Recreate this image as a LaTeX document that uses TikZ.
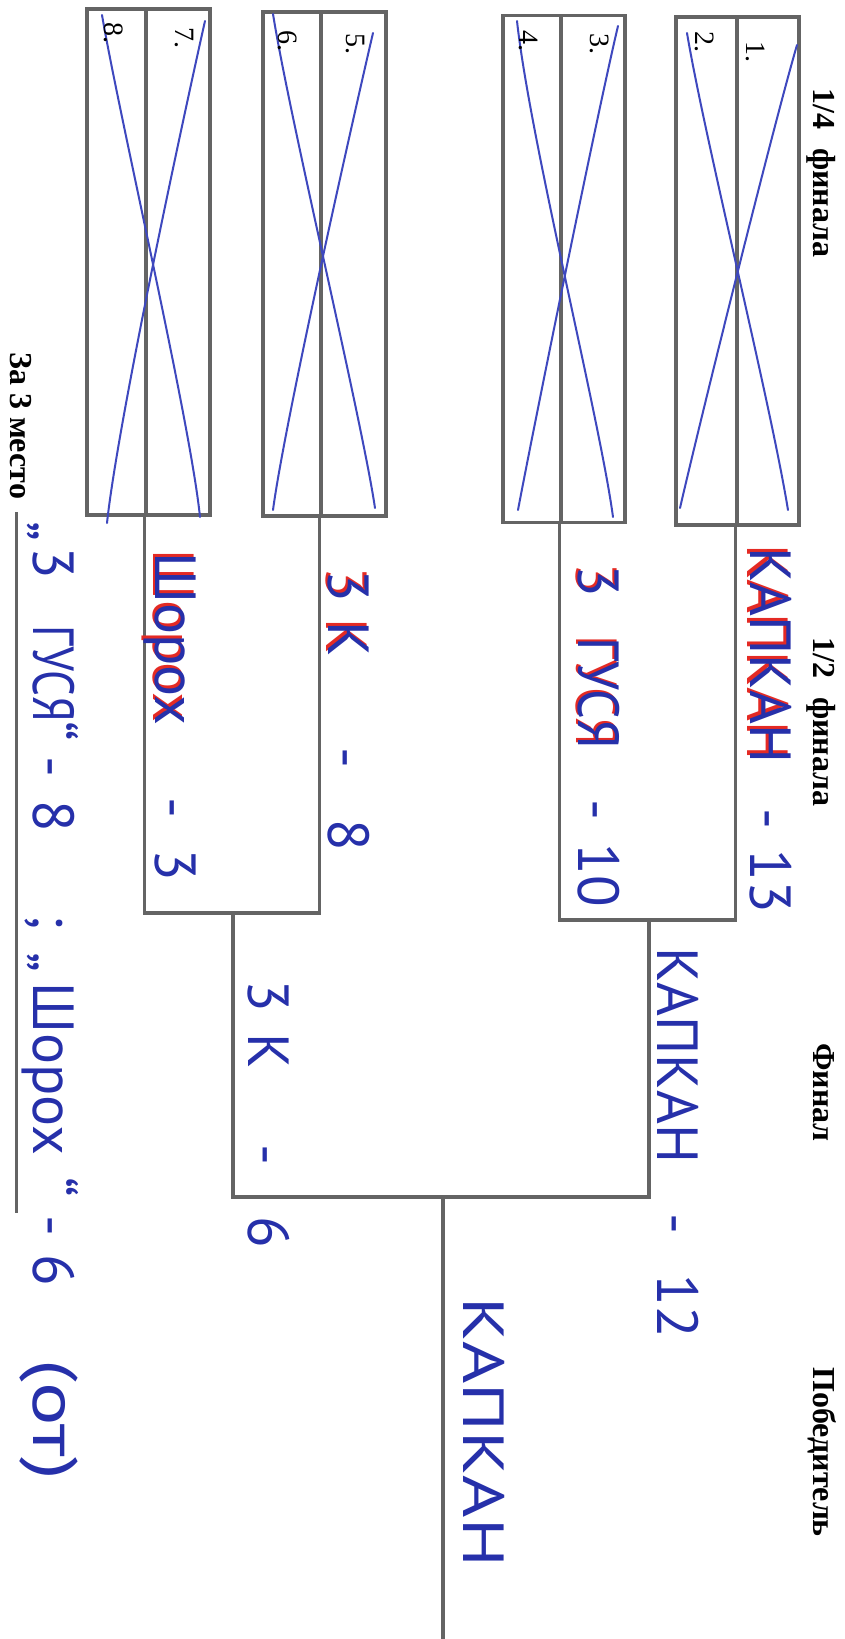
\documentclass[tikz,border=0pt]{standalone}
\usepackage{fontspec}
\setmainfont{Liberation Serif}
\newfontfamily\handfont{PT Sans}
\definecolor{ink}{RGB}{38,48,170}
\definecolor{redink}{RGB}{228,42,36}
\definecolor{crossink}{RGB}{62,72,190}
\definecolor{framegray}{RGB}{100,100,100}
\tikzset{
  slot/.style={draw=framegray,line width=3.5pt,inner sep=0pt,rectangle},
  frameline/.style={draw=framegray,line width=3.5pt},
  crossline/.style={draw=crossink,line width=2pt,line cap=round},
  head/.style={font=\fontsize{32}{32}\selectfont\bfseries,rotate=-90,anchor=base west,inner sep=0pt},
  num/.style={font=\fontsize{28}{28}\selectfont,rotate=-90,anchor=base west,inner sep=0pt},
  hw/.style={font=\handfont\fontsize{58}{58}\selectfont,text=ink,rotate=-90,anchor=base west,inner sep=0pt},
  hwred/.style={hw,text=redink}
}
\begin{document}
\begin{tikzpicture}[x=1pt,y=-1pt]
\useasboundingbox (0,0) rectangle (845,1639);
\fill[white] (0,0) rectangle (845,1639);

% quarter-final slots
\node[slot,minimum width=62pt,minimum height=508pt] (q1) at (768,271) {};
\node[slot,minimum width=61pt,minimum height=508pt] (q2) at (706.5,271) {};
\node[slot,minimum width=64pt,minimum height=507pt] (q3) at (593,269) {};
\node[slot,minimum width=58pt,minimum height=507pt] (q4) at (532,269) {};
\node[slot,minimum width=65pt,minimum height=504pt] (q5) at (353.5,264) {};
\node[slot,minimum width=58pt,minimum height=504pt] (q6) at (292,264) {};
\node[slot,minimum width=64pt,minimum height=506pt] (q7) at (178,262) {};
\node[slot,minimum width=59pt,minimum height=506pt] (q8) at (116.5,262) {};

% bracket points
\coordinate (sA) at (649,920);
\coordinate (sB) at (233,913);
\coordinate (fin) at (443,1197);
\coordinate (win) at (443,1639);
\coordinate (t1) at (16,512);
\coordinate (t2) at (16,1213);

\draw[frameline] (q1.south west) |- (sA) -| (q3.south west);
\draw[frameline] (q5.south west) |- (sB) -| (q7.south west);
\draw[frameline] (sA) |- (fin) -| (sB);
\draw[frameline] (fin) -- (win);
\draw[frameline,line width=3pt] (t1) -- (t2);

% crossed-out quarter slots
\draw[crossline] (797,45) .. controls (775,120) and (705,400) .. (680,508);
\draw[crossline] (687,33) .. controls (705,140) and (770,400) .. (788,510);
\draw[crossline] (618,26) .. controls (598,110) and (535,420) .. (518,510);
\draw[crossline] (517,21) .. controls (530,140) and (600,420) .. (613,517);
\draw[crossline] (373,33) .. controls (355,110) and (285,420) .. (273,510);
\draw[crossline] (273,14) .. controls (290,120) and (362,420) .. (375,508);
\draw[crossline] (205,21) .. controls (185,110) and (118,420) .. (107,523);
\draw[crossline] (102,15) .. controls (120,120) and (190,420) .. (200,517);

% slot numbers
\node[num] (n1) at (746,41) {1.};
\node[num] (n2) at (695,31) {2.};
\node[num] (n3) at (590,33) {3.};
\node[num] (n4) at (519,30) {4.};
\node[num] (n5) at (346,33) {5.};
\node[num] (n6) at (278,30) {6.};
\node[num] (n7) at (175,27) {7.};
\node[num] (n8) at (104,22) {8.};

% headings
\node[head] (h1) at (813,88) {1/4\hspace{0.6em}финала};
\node[head] (h2) at (813,637) {1/2\hspace{0.6em}финала};
\node[head] (h3) at (813,1043) {Финал};
\node[head] (h4) at (813,1367) {Победитель};
\node[head] (h5) at (10,352) {За 3 место};

% handwriting: semi-finals (red first writing under the blue)
\node[hwred] (r1) at (747,544) {КАПКАН};
\node[hw] (w1) at (750,547) {КАПКАН \hspace{30pt}- \hspace{5pt}13};
\node[hwred] (r2) at (576,563) {3 \hspace{25pt}\scalebox{0.9}[1]{ГУСЯ}};
\node[hw] (w2) at (578,565) {3 \hspace{25pt}\scalebox{0.9}[1]{ГУСЯ} \hspace{35pt}- \hspace{8pt}10};
\node[hwred] (r3) at (326,567) {3\hspace{20pt}К};
\node[hw] (w3) at (328,570) {3\hspace{20pt}К \hspace{75pt}- \hspace{35pt}8};
\node[hwred] (r4) at (153,549) {Шорох};
\node[hw] (w4) at (155,552) {Шорох \hspace{57pt}- \hspace{15pt}3};

% handwriting: final and winner
\node[hw] (w5) at (657,947) {КАПКАН \hspace{35pt}- \hspace{25pt}12};
\node[hw] (w6) at (248,980) {3\hspace{22pt}К \hspace{60pt}- \hspace{35pt}6};
\node[hw] (w7) at (463,1297) {\scalebox{1.25}[1]{КАПКАН}};

% handwriting: third place
\node[hw] (w8) at (33,521) {„\hspace{7pt}3 \hspace{30pt}\scalebox{0.78}[1]{ГУСЯ}“ \hspace{0pt}-\hspace{23pt}8 \hspace{67pt};\hspace{23pt}„\hspace{10pt}Шорох\hspace{22pt}“\hspace{18pt}-\hspace{18pt}6 \hspace{58pt}\scalebox{1.4}[1.08]{(от)}};
\end{tikzpicture}
\end{document}
